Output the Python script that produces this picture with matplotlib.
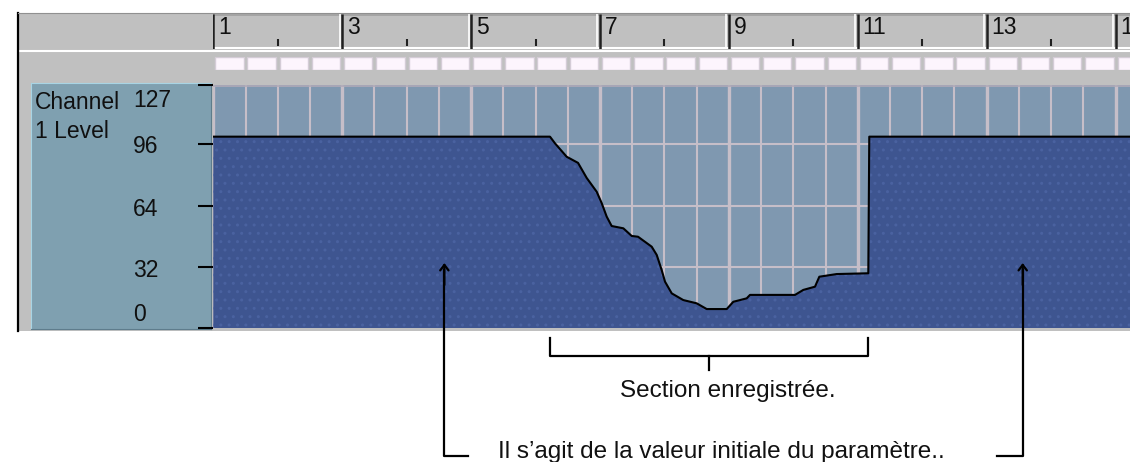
import numpy as np
import matplotlib.pyplot as plt
import matplotlib.transforms as mtransforms

plt.rcParams['font.family'] = ['Liberation Sans', 'DejaVu Sans']

# controller curve (bar position, value 0-127)
curve_bars = [1.0, 6.224, 6.302, 6.483, 6.659, 6.794, 6.949, 7.026, 7.104, 7.181,
              7.362, 7.492, 7.590, 7.802, 7.880, 7.957, 8.009, 8.113, 8.292, 8.500,
              8.656, 8.966, 9.068, 9.276, 9.327, 10.026, 10.154, 10.336, 10.403,
              10.673, 11.163, 11.178, 15.3]
curve_vals = [100, 100, 96.5, 89.5, 86.3, 78.4, 71.2, 65.3, 58.2, 53.3,
              52.1, 48.1, 47.7, 42.5, 38.2, 30.3, 24.2, 18.1, 14.6, 12.9,
              9.9, 9.9, 13.7, 15.5, 17.3, 17.3, 19.9, 21.6, 26.8,
              28.2, 28.6, 100, 100]

ruler_bars = [1, 3, 5, 7, 9, 11, 13, 15]
level_ticks = [0, 32, 64, 96, 127]
level_labels = ['0', '32', '64', '96', '127']
label_y = [7, 30, 62, 95, 119]

section_start, section_end = 6.224, 11.163
arrow_bars = [4.585, 13.559]

W, H = 1130, 462
XMAX = 1 + (W - 213.3) / 64.45


def box(x0, y0, x1, y1):
    return [x0 / W, (H - y1) / H, (x1 - x0) / W, (y1 - y0) / H]


fig = plt.figure(figsize=(W / 100, H / 100), dpi=100)
fig.patch.set_facecolor('white')

# fenêtre grise
chrome = fig.add_axes(box(17.5, 13, W, 331))
chrome.set_facecolor('#C0C0C0')
chrome.set_xlim(17.5, W)
chrome.set_ylim(331, 13)
chrome.set_xticks([])
chrome.set_yticks([])
for s in ['right', 'bottom']:
    chrome.spines[s].set_visible(False)
chrome.spines['left'].set_color('black')
chrome.spines['left'].set_linewidth(1.6)
chrome.spines['top'].set_color('#909090')
chrome.axhline(51, color='white', lw=1.5)

# règle
ruler = fig.add_axes(box(213.3, 14, W, 49))
ruler.set_facecolor('#C0C0C0')
ruler.set_xlim(1, XMAX)
ruler.set_ylim(0, 1)
ruler.axis('off')
ruler.axhline(0.97, color='#A0A0A0', lw=1.2)
ruler.axhline(0.04, color='white', lw=1.5)
ruler.vlines(np.array(ruler_bars[1:]) - 0.04, 0, 1, color='white', lw=1.2)
ruler.vlines(ruler_bars, 0, 1, color='#202020', lw=1.8)
ruler.vlines(np.array(ruler_bars) + 1, 0.08, 0.28, color='#202020', lw=1.5)
for b in ruler_bars:
    ruler.text(b + 0.07, 0.6, str(b), fontsize=16.5, va='center', ha='left',
               color='#101010', clip_on=True)

# bande des cases
strip = fig.add_axes(box(213.3, 57, W, 70))
strip.set_xlim(1, XMAX)
strip.set_ylim(0, 1)
strip.axis('off')
cells = np.arange(1, 15.5, 0.5)
strip.bar(cells + 0.03, 1, width=0.44, align='edge', color='#FDF5FD',
          edgecolor='#D4CCD6', lw=1)

# panneau de gauche
panel = fig.add_axes(box(30.7, 83.3, 210.7, 328.5))
panel.set_facecolor('#7FA0B0')
panel.set_xticks([])
panel.set_yticks([])
panel.spines['top'].set_color('#A8D4E4')
panel.spines['left'].set_color('#A8D4E4')
panel.spines['right'].set_color('#5E7C8C')
panel.spines['bottom'].set_color('#5E7C8C')
panel.text(0.024, 0.895, 'Channel', transform=panel.transAxes, fontsize=16.5,
           va='baseline', color='#101010')
panel.text(0.024, 0.777, '1 Level', transform=panel.transAxes, fontsize=16.5,
           va='baseline', color='#101010')

# couloir du contrôleur
lane = fig.add_axes(box(213.3, 85, W, 328))
lane.set_facecolor('#7F98B0')
lane.set_xlim(1, XMAX)
lane.set_ylim(0, 127)
for s in lane.spines.values():
    s.set_visible(False)
lane.set_xticks([])
lane.set_yticks(level_ticks)
lane.tick_params(axis='y', length=10.5, width=1.5, direction='out',
                 color='black', labelleft=False)

lane.vlines(np.arange(1, 15.5, 0.5), 0, 127, color='#C6BEC8', lw=1.5, zorder=1)
lane.vlines(ruler_bars, 0, 127, color='#C6BEC8', lw=2.4, zorder=1)
lane.hlines([32, 64, 96], 1, XMAX, color='#C6BEC8', lw=1.5, zorder=1)
lane.axhline(126.5, color='#B0AAB8', lw=1.2, zorder=1)

lane.fill_between(curve_bars, 0, curve_vals, facecolor='#3E5590',
                  edgecolor='#4A62A0', hatch='..', lw=0, zorder=2)
lane.plot(curve_bars, curve_vals, color='black', lw=1.5, zorder=3)

blend = mtransforms.blended_transform_factory(panel.transAxes, lane.transData)
for lab, y in zip(level_labels, label_y):
    panel.text(0.569, y, lab, transform=blend, fontsize=16.5, va='center',
               ha='left', color='#101010')

# annotations
fb = mtransforms.blended_transform_factory(lane.transData, fig.transFigure)


def fy(py):
    return (H - py) / H


mid = (section_start + section_end) / 2
lane.plot([section_start, section_start, section_end, section_end],
          [fy(338), fy(356), fy(356), fy(338)], transform=fb, color='black',
          lw=1.6, clip_on=False, zorder=5)
lane.plot([mid, mid], [fy(356), fy(370)], transform=fb, color='black',
          lw=1.6, clip_on=False, zorder=5)
lane.text(8.978, fy(396.7), 'Section enregistrée.', transform=fb, fontsize=17.5,
          ha='center', va='baseline', color='#111111', clip_on=False)

lane.plot([arrow_bars[0], arrow_bars[0], 4.95], [fy(270), fy(455.7), fy(455.7)],
          transform=fb, color='black', lw=1.6, clip_on=False, zorder=5)
lane.plot([arrow_bars[1], arrow_bars[1], 13.155], [fy(270), fy(455.7), fy(455.7)],
          transform=fb, color='black', lw=1.6, clip_on=False, zorder=5)
for xb in arrow_bars:
    lane.annotate('', xy=(xb, fy(263)), xycoords=fb, xytext=(xb, fy(285)),
                  textcoords=fb,
                  arrowprops=dict(arrowstyle='->,head_length=0.4,head_width=0.3',
                                  color='black', lw=1.6, shrinkA=0, shrinkB=0),
                  annotation_clip=False, zorder=5)
lane.text(8.877, fy(458), 'Il s\u2019agit de la valeur initiale du paramètre..',
          transform=fb, fontsize=17.5, ha='center', va='baseline',
          color='#111111', clip_on=False)

fig.savefig('out.png', dpi=100)
